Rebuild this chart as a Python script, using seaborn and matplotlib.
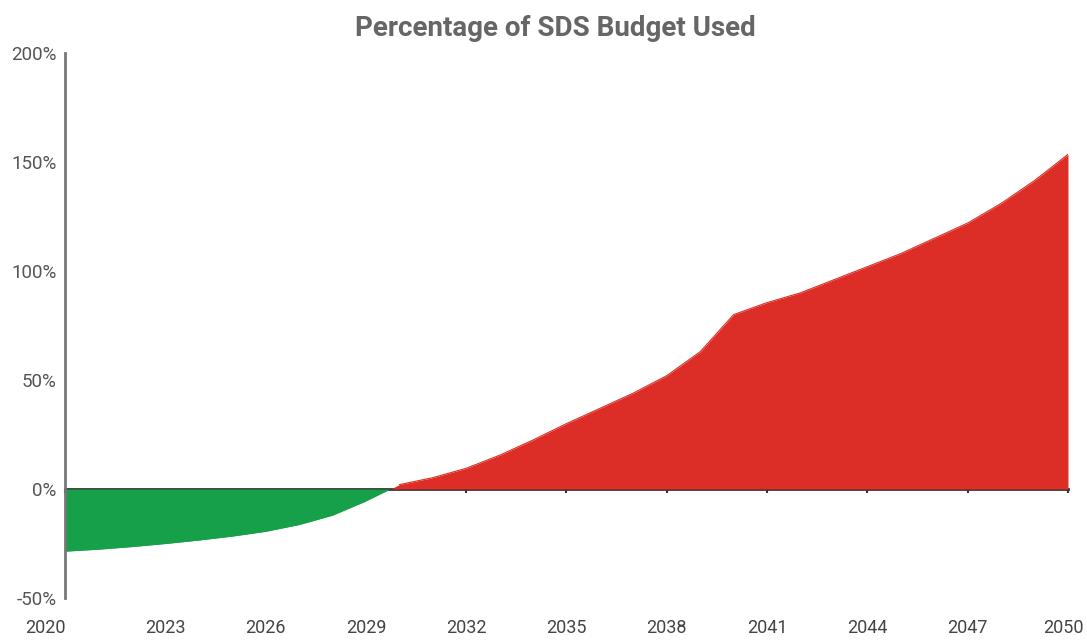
import numpy as np
import pandas as pd
import matplotlib
matplotlib.use("Agg")
import matplotlib.pyplot as plt
import matplotlib.transforms as mtransforms
import seaborn as sns

# Share of the SDS carbon budget used, by year (%)
years = list(range(2020, 2051))
budget_used = [
    -28.5, -27.6, -26.4, -25.0, -23.4, -21.6, -19.4, -16.3, -12.0, -5.5,
    2.0, 5.2, 9.5, 15.5, 22.5, 30.0, 37.0, 44.0, 52.0, 63.0,
    80.0, 85.5, 90.0, 96.0, 102.0, 108.0, 115.0, 122.0, 131.0, 141.5,
    153.5,
]
x_ticks = list(range(2020, 2051, 3))
y_ticks = [-50, 0, 50, 100, 150, 200]

GREEN = "#17a04a"
RED = "#dc2e26"

df = pd.DataFrame({"year": years, "used": budget_used})

sns.set_theme(style="white")
plt.rcParams["font.family"] = ["Roboto", "DejaVu Sans"]

fig = plt.figure(figsize=(10.87, 6.4), dpi=100)
ax = fig.add_axes([0.0598, 0.0656, 0.9227, 0.8516])

x = df["year"].to_numpy(dtype=float)
y = df["used"].to_numpy(dtype=float)
ax.fill_between(x, y, 0, where=y <= 0, interpolate=True, color=GREEN, linewidth=0)
ax.fill_between(x, y, 0, where=y >= 0, interpolate=True, color=RED, linewidth=0)
sns.lineplot(data=df[df["used"] <= 0], x="year", y="used", ax=ax,
             color=GREEN, linewidth=0.8)
sns.lineplot(data=df[df["used"] >= 0], x="year", y="used", ax=ax,
             color=RED, linewidth=0.8)

ax.set_xlim(2020, 2050)
ax.set_ylim(-50, 200)
ax.set_xlabel("")
ax.set_ylabel("")

# y axis: gray spine with short inward ticks
for side in ("top", "right", "bottom"):
    ax.spines[side].set_visible(False)
ax.spines["left"].set_color("#777777")
ax.spines["left"].set_linewidth(2)
ax.set_yticks(y_ticks)
ax.set_yticklabels([f"{v}%" for v in y_ticks])
ax.tick_params(axis="y", direction="in", length=4, width=1.5, color="#888888",
               labelsize=13.5, labelcolor="#555555", pad=6)

# x labels along the bottom edge
ax.set_xticks(x_ticks)
ax.set_xticklabels([str(v) for v in x_ticks])
ax.tick_params(axis="x", length=0, labelsize=13, labelcolor="#444444", pad=15)
# keep the end labels inside the figure
labels = ax.get_xticklabels()
for lab, dx in ((labels[0], -0.2), (labels[-1], -0.05)):
    lab.set_transform(lab.get_transform()
                      + mtransforms.ScaledTranslation(dx, 0, fig.dpi_scale_trans))

# zero baseline carrying the year ticks
zero_pos = (0 - y_ticks[0]) / (y_ticks[-1] - y_ticks[0])
base = ax.secondary_xaxis(zero_pos)
base.set_xticks(x_ticks)
base.set_xticklabels([])
base.spines["bottom"].set_color("#333333")
base.spines["bottom"].set_linewidth(2)
base.tick_params(axis="x", direction="out", length=3, width=1.5, color="#333333")

fig.text(0.511, 0.956, "Percentage of SDS Budget Used", ha="center", va="center",
         fontsize=20, fontweight="bold", color="#666666")

fig.savefig("out.png", dpi=100)
